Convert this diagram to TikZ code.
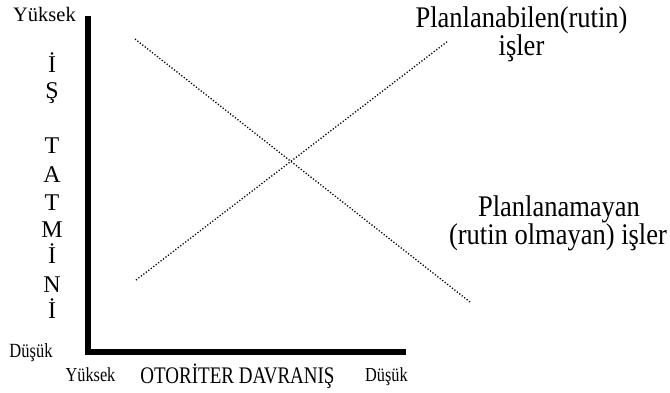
\documentclass[tikz,border=0pt]{standalone}
\usepackage{fontspec}
\setmainfont{Liberation Serif}
\newcommand{\tallt}[1]{\scalebox{1}[1.13]{#1}}
\newcommand{\tallb}[1]{\scalebox{1}[1.22]{#1}}
\begin{document}
\begin{tikzpicture}[x=1pt,y=-1pt,
  lbl/.style={inner sep=0pt,anchor=base},
  axis/.style={line width=5.5pt},
  dotline/.style={line width=1.3pt,dash pattern=on 1.2pt off 1.9pt},
  vletter/.style={lbl,font=\fontsize{24}{26}\selectfont}]
\useasboundingbox (0,0) rectangle (670,392);
% axes
\coordinate (top) at (88,16);
\coordinate (corner) at (88,352);
\coordinate (right) at (406,352);
\draw[axis,line join=miter] (top) -- (corner) -- (right);
% dotted lines
\coordinate (a1) at (135,39);
\coordinate (a2) at (470,302);
\coordinate (b1) at (136,280);
\coordinate (b2) at (448,41);
\draw[dotline] (a1) -- (a2);
\draw[dotline] (b1) -- (b2);
% y axis labels
\node[lbl,font=\fontsize{20.5}{22}\selectfont] (yhigh) at (44.5,21) {Yüksek};
\node[lbl,font=\fontsize{16.5}{19}\selectfont] (ylow) at (31,357) {\tallb{Düşük}};
\node[vletter] (l1) at (52,72) {İ};
\node[vletter] (l2) at (52,98) {Ş};
\node[vletter] (l3) at (52,153) {T};
\node[vletter] (l4) at (52,182) {A};
\node[vletter] (l5) at (52,210) {T};
\node[vletter] (l6) at (52,237) {M};
\node[vletter] (l7) at (52,263) {İ};
\node[vletter] (l8) at (52,292) {N};
\node[vletter] (l9) at (52,318) {İ};
% x axis labels
\node[lbl,font=\fontsize{16.3}{19}\selectfont] (xhigh) at (90.5,381) {\tallb{Yüksek}};
\node[lbl,font=\fontsize{19}{21}\selectfont] (xtitle) at (237.5,383) {\scalebox{1}[1.25]{OTORİTER DAVRANIŞ}};
\node[lbl,font=\fontsize{16.3}{19}\selectfont] (xlow) at (386.5,381) {\tallb{Düşük}};
% curve labels
\node[lbl,font=\fontsize{26.5}{28}\selectfont] (p1) at (521.5,27) {\tallt{Planlanabilen(rutin)}};
\node[lbl,font=\fontsize{26.5}{28}\selectfont] (p2) at (521.5,55) {\tallt{işler}};
\node[lbl,font=\fontsize{26.5}{28}\selectfont] (q1) at (559,216) {\tallt{Planlanamayan}};
\node[lbl,font=\fontsize{26.5}{28}\selectfont] (q2) at (558,244) {\tallt{(rutin olmayan) işler}};
\end{tikzpicture}
\end{document}
